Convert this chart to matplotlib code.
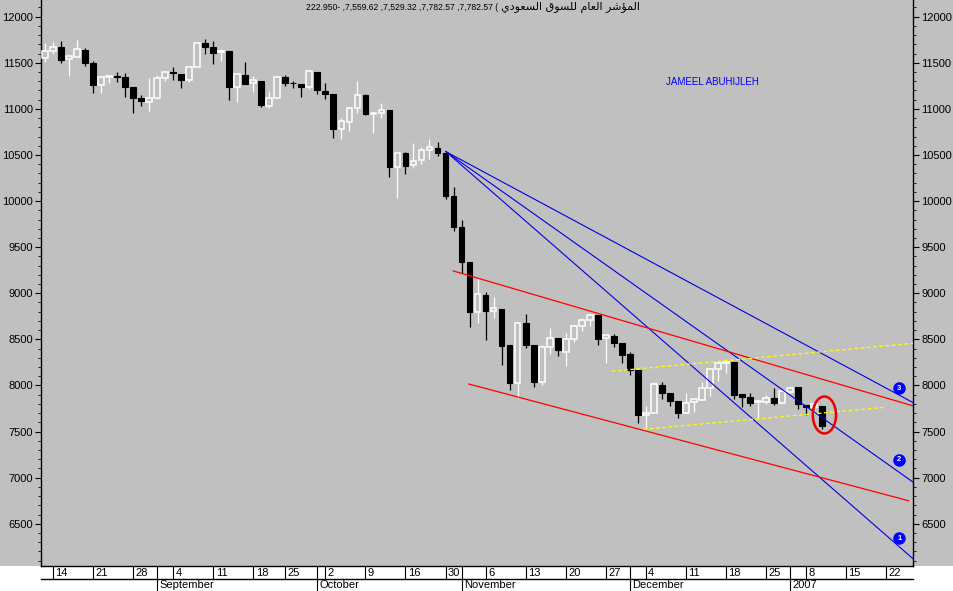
import numpy as np
import matplotlib
matplotlib.use('Agg')
import matplotlib.pyplot as plt
from matplotlib.patches import Ellipse, Rectangle

plt.rcParams['font.family'] = ['Liberation Sans', 'DejaVu Sans']

# daily OHLC, trading-day index 1..98 (13 Aug 2006 - 10 Jan 2007)
opens = [11555, 11628, 11668, 11537, 11566, 11639, 11501, 11259, 11342, 11352,
         11342, 11234, 11118, 11078, 11114, 11331, 11403, 11378, 11313, 11458,
         11711, 11675, 11613, 11628, 11234, 11367, 11277, 11302, 11031, 11114,
         11346, 11284, 11270, 11234, 11404, 11197, 11162, 10778, 10861, 11006,
         11150, 10941, 10952, 10988, 10370, 10518, 10392, 10446, 10554, 10572,
         10525, 10055, 9716, 9336, 8800, 8982, 8808, 8830, 8440, 8024,
         8681, 8440, 8035, 8417, 8514, 8367, 8505, 8641, 8705, 8760,
         8512, 8537, 8464, 8341, 8168, 7680, 7698, 8005, 7915, 7832,
         7705, 7818, 7843, 7977, 8176, 8241, 8258, 7908, 7872, 7818,
         7818, 7861, 7814, 7926, 7988, 7788, 7770, 7782.57]
highs = [11711, 11729, 11736, 11584, 11747, 11664, 11519, 11349, 11367, 11396,
         11385, 11234, 11150, 11331, 11367, 11414, 11451, 11378, 11458, 11729,
         11754, 11736, 11646, 11628, 11378, 11505, 11356, 11302, 11194, 11356,
         11364, 11306, 11270, 11422, 11404, 11284, 11162, 10897, 11017, 11302,
         11158, 10970, 11060, 10988, 10518, 10529, 10626, 10590, 10670, 10637,
         10536, 10150, 9795, 9336, 9174, 9010, 8957, 8830, 8440, 8681,
         8776, 8440, 8440, 8620, 8514, 8566, 8656, 8729, 8770, 8760,
         8548, 8559, 8464, 8366, 8168, 7778, 8041, 8041, 7915, 7832,
         7922, 7850, 8035, 8176, 8269, 8284, 8258, 7908, 7915, 7832,
         7897, 7970, 7951, 7988, 7988, 7788, 7800, 7782.57]
lows = [11512, 11596, 11501, 11356, 11559, 11469, 11176, 11176, 11277, 11295,
        11132, 10952, 11031, 10981, 11107, 11302, 11313, 11223, 11295, 11458,
        11595, 11487, 11519, 11096, 11078, 11266, 11187, 11024, 11006, 11114,
        11252, 11223, 11132, 11212, 11158, 11104, 10681, 10670, 10764, 10952,
        10934, 10735, 10905, 10258, 10030, 10294, 10355, 10402, 10453, 10493,
        10020, 9679, 9223, 8631, 8681, 8494, 8735, 8222, 7951, 7861,
        8404, 7987, 8010, 8342, 8323, 8215, 8468, 8595, 8641, 8440,
        8241, 8420, 8241, 8114, 7597, 7528, 7698, 7850, 7778, 7644,
        7705, 7716, 7843, 7889, 8049, 8139, 7850, 7770, 7781, 7637,
        7796, 7788, 7807, 7915, 7742, 7680, 7760, 7529.32]
closes = [11628, 11668, 11530, 11573, 11646, 11501, 11259, 11342, 11360, 11349,
          11241, 11121, 11089, 11114, 11331, 11396, 11385, 11313, 11458, 11718,
          11675, 11610, 11628, 11241, 11378, 11270, 11313, 11042, 11114, 11349,
          11277, 11277, 11234, 11414, 11205, 11158, 10778, 10872, 11006, 11150,
          10941, 10952, 10988, 10373, 10518, 10384, 10438, 10554, 10590, 10525,
          10058, 9722, 9343, 8800, 8989, 8808, 8837, 8432, 8024, 8681,
          8440, 8035, 8414, 8514, 8380, 8501, 8641, 8705, 8760, 8505,
          8548, 8464, 8330, 8168, 7680, 7698, 8013, 7922, 7835, 7705,
          7813, 7850, 7970, 8176, 8248, 8258, 7897, 7879, 7807, 7832,
          7868, 7807, 7944, 7977, 7796, 7770, 7796, 7559.62]

# date axis
tick_days = [2, 7, 12, 17, 22, 27, 31, 36, 41, 46, 51, 56, 61, 66, 71, 76, 81, 86, 91, 96, 101, 106]
tick_labels = ['14', '21', '28', '4', '11', '18', '25', '2', '9', '16', '30',
               '6', '13', '20', '27', '4', '11', '18', '25', '8', '15', '22']
month_days = [15, 35, 53, 74, 94]
month_labels = ['September', 'October', 'November', 'December', '2007']

# trend lines: (day, value) start and end
blue_lines = [((51.06, 10536), (109.4, 6118)),
              ((51.06, 10536), (109.4, 6950)),
              ((51.06, 10536), (109.4, 7813))]
blue_marks = [(107.65, 6343, '1'), (107.65, 7192, '2'), (107.65, 7970, '3')]
red_lines = [((51.97, 9242), (109.4, 7778)),
             ((53.9, 8016), (108.8, 6750))]
yellow_lines = [((71.75, 8154), (109.4, 8458)),
                ((75.7, 7525), (105.9, 7763))]

# "المؤشر العام للسوق السعودي" in presentation forms, laid out left to right
arabic = ('\uFEF1\uFEA9\uFEEE\uFECC\uFEB4\uFEDF\uFE8D' + ' ' +
          '\uFED5\uFEEE\uFEB4\uFEE0\uFEDF' + ' ' +
          '\uFEE1\uFE8E\uFECC\uFEDF\uFE8D' + ' ' +
          '\uFEAE\uFEB7\uFE86\uFEE4\uFEDF\uFE8D')
numbers = '222.950- ,7,559.62 ,7,529.32 ,7,782.57 ,7,782.57 ('

gray = '#c0c0c0'
fig = plt.figure(figsize=(9.54, 5.91), dpi=100, facecolor=gray)
fig.patches.append(Rectangle((0, 0), 1, 25 / 591, transform=fig.transFigure,
                             facecolor='white', edgecolor='none', zorder=-5))
ax = fig.add_axes([41 / 954, 25 / 591, 872 / 954, 566 / 591])
ax.set_facecolor(gray)

days = np.arange(1, len(opens) + 1)
o = np.array(opens); h = np.array(highs); l = np.array(lows); c = np.array(closes)
up = c >= o
top = np.maximum(o, c)
bot = np.minimum(o, c)

# wicks
ax.vlines(days[~up], l[~up], h[~up], color='black', lw=0.9, zorder=3)
ax.vlines(days[up], top[up], h[up], color='white', lw=0.9, zorder=3)
ax.vlines(days[up], l[up], bot[up], color='white', lw=0.9, zorder=3)
# bodies
hgt = np.maximum(top - bot, 8)
ax.bar(days[~up], hgt[~up], bottom=bot[~up], width=0.72, color='black',
       edgecolor='black', lw=0.8, zorder=4)
ax.bar(days[up], hgt[up], bottom=bot[up], width=0.72, facecolor='none',
       edgecolor='white', lw=1.1, zorder=4)

for (x0, y0), (x1, y1) in blue_lines:
    ax.plot([x0, x1], [y0, y1], color='#0000e0', lw=0.8, zorder=5)
for (x0, y0), (x1, y1) in red_lines:
    ax.plot([x0, x1], [y0, y1], color='#ff0000', lw=0.9, zorder=5)
for (x0, y0), (x1, y1) in yellow_lines:
    ax.plot([x0, x1], [y0, y1], color='#ffff00', lw=0.9, ls=(0, (3, 2)), zorder=5)
for x, y, s in blue_marks:
    ax.plot(x, y, 'o', ms=8, color='#0000ff', zorder=6)
    ax.text(x, y, s, color='white', fontsize=5.5, fontweight='bold',
            ha='center', va='center', zorder=7)

ax.add_patch(Ellipse((98.3, 7680), width=2.9, height=401, fill=False,
                     edgecolor='#ee0000', lw=1.8, zorder=6))

ax.set_xlim(0.5, 109.36)
ax.set_ylim(6042, 12181)
ax.set_yticks(np.arange(6500, 12001, 500))
ax.set_yticks(np.arange(6100, 12181, 100), minor=True)
ax.tick_params(axis='y', which='both', left=True, right=True,
               labelleft=True, labelright=True, labelsize=8, pad=2)
ax.tick_params(axis='y', which='major', length=4)
ax.tick_params(axis='y', which='minor', length=2.5)
ax.set_xticks([])
ax.spines['top'].set_visible(False)
for s in ['left', 'right', 'bottom']:
    ax.spines[s].set_linewidth(1.0)

# date strip below the plot
tr = ax.get_xaxis_transform()
row = -13.3 / 566
ax.plot([0.55, 109.36], [row, row], color='black', lw=1.0, transform=tr, clip_on=False)
for d, s in zip(tick_days, tick_labels):
    ax.plot([d, d], [0, row], color='black', lw=0.8, transform=tr, clip_on=False)
    ax.text(d + 0.3, -6.8 / 566, s, fontsize=8, ha='left', va='center',
            transform=tr, clip_on=False)
for d, s in zip(month_days, month_labels):
    ax.plot([d, d], [0, -25 / 566], color='black', lw=0.8, transform=tr, clip_on=False)
    ax.text(d + 0.3, -19.5 / 566, s, fontsize=8, ha='left', va='center',
            transform=tr, clip_on=False)

ax.text(0.524, 0.986, numbers, transform=ax.transAxes, ha='right', va='center',
        fontsize=6.2)
ax.text(0.5275, 0.986, arabic, transform=ax.transAxes, ha='left', va='center',
        fontsize=8, family=['DejaVu Sans'])
ax.text(0.7695, 0.8557, 'JAMEEL ABUHIJLEH', transform=ax.transAxes,
        ha='center', va='center', fontsize=7, color='#0000ff')

fig.savefig('out.png', dpi=100, facecolor=fig.get_facecolor())
